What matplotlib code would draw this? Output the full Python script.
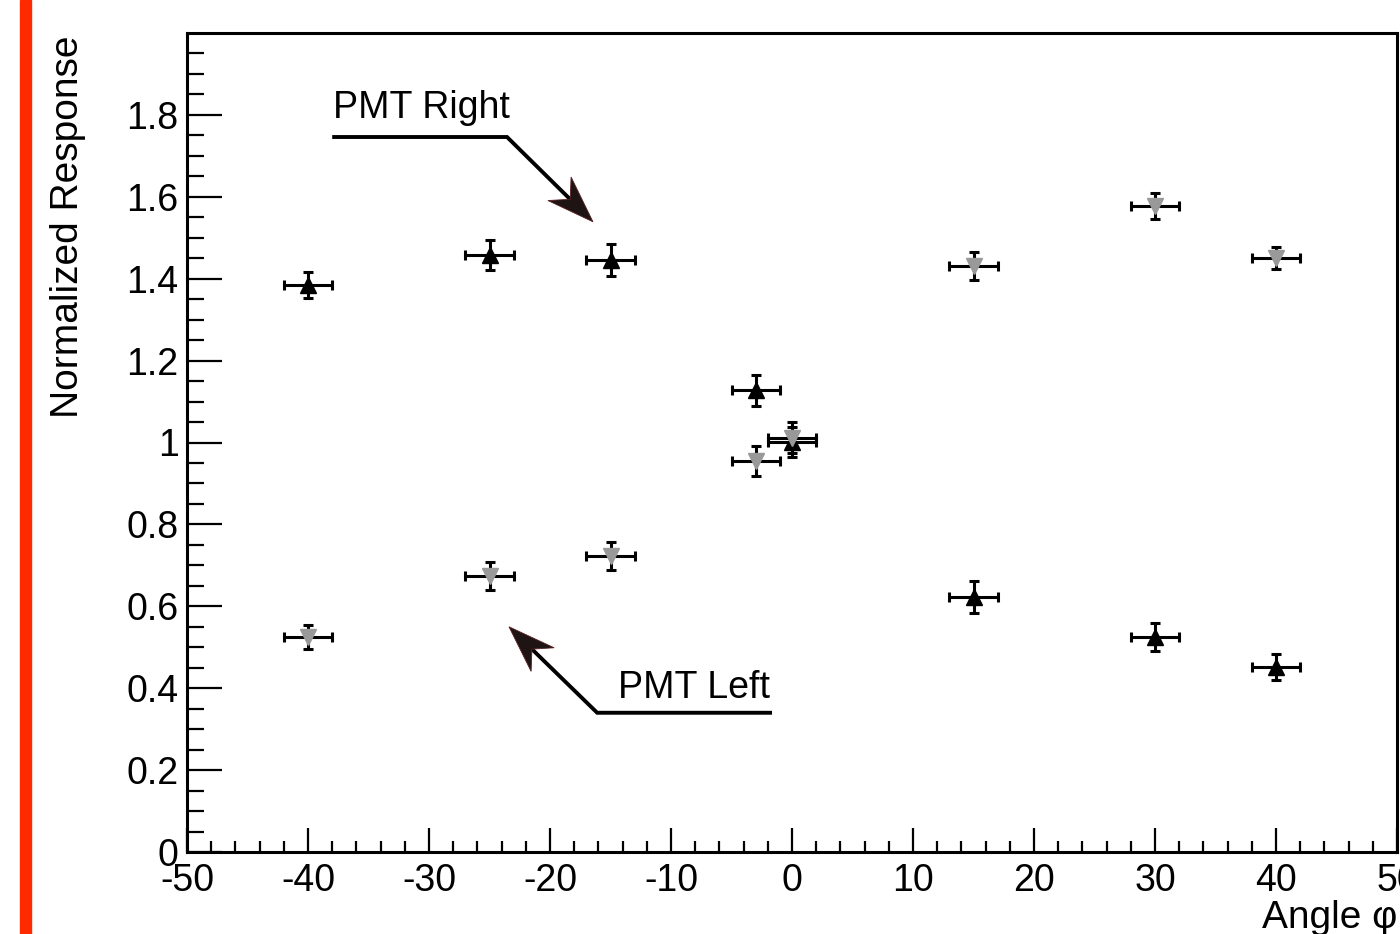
import numpy as np
import matplotlib
matplotlib.use("Agg")
import matplotlib.pyplot as plt
from matplotlib.patches import Polygon, Rectangle
from matplotlib.transforms import IdentityTransform
from matplotlib.ticker import MultipleLocator, FixedLocator

plt.rcParams['font.family'] = ['Liberation Sans', 'DejaVu Sans']
plt.rcParams['axes.unicode_minus'] = False

# data
angle = [-40, -25, -15, -3, 0, 15, 30, 40]
angle_err = [2, 2, 2, 2, 2, 2, 2, 2]
pmt_right = [1.385, 1.458, 1.446, 1.128, 1.001, 0.623, 0.525, 0.452]
pmt_right_err = [0.032, 0.036, 0.039, 0.038, 0.037, 0.040, 0.035, 0.032]
pmt_left = [0.525, 0.674, 0.723, 0.955, 1.012, 1.431, 1.578, 1.451]
pmt_left_err = [0.030, 0.033, 0.035, 0.036, 0.037, 0.034, 0.031, 0.027]

fig = plt.figure(figsize=(14, 9.34), dpi=100)
ax = fig.add_axes([187/1400, 82/934, 1210/1400, 819/934])

# red bar on the left edge
fig.patches.append(Rectangle((20/1400, 0), 11/1400, 1, transform=fig.transFigure,
                             color='#ff2a00', zorder=0))

ax.errorbar(angle, pmt_right, xerr=angle_err, yerr=pmt_right_err, fmt='^', color='black',
            ecolor='black', ms=11, elinewidth=2.2, capsize=3.5, capthick=2.2, zorder=3)
ax.errorbar(angle, pmt_left, xerr=angle_err, yerr=pmt_left_err, fmt='v', color='#999999',
            mec='#999999', ecolor='black', ms=11, elinewidth=2.2, capsize=3.5, capthick=2.2, zorder=4)

ax.set_xlim(-50, 50)
ax.set_ylim(0, 2.0)
ax.xaxis.set_major_locator(MultipleLocator(10))
ax.xaxis.set_minor_locator(MultipleLocator(2))
ax.yaxis.set_major_locator(FixedLocator(np.arange(0, 1.81, 0.2)))
ax.yaxis.set_minor_locator(FixedLocator(np.arange(0, 1.96, 0.05)))
ax.set_yticklabels(['0', '0.2', '0.4', '0.6', '0.8', '1', '1.2', '1.4', '1.6', '1.8'])

ax.tick_params(axis='both', which='both', direction='in', width=1.6, labelsize=27,
               top=False, right=False)
ax.tick_params(axis='x', which='major', length=17, pad=8)
ax.tick_params(axis='x', which='minor', length=8)
ax.tick_params(axis='y', which='major', length=25, pad=6)
ax.tick_params(axis='y', which='minor', length=12)
for s in ax.spines.values():
    s.set_linewidth(2.2)

fig.text(68/1400, (934-35)/934, 'Normalized Response', rotation=90, ha='center', va='top',
         fontsize=28)
fig.text(1397/1400, (934-928)/934, 'Angle φ', ha='right', va='baseline', fontsize=28)

# annotations
ax.text(-37.9, 1.793, 'PMT Right', fontsize=27, ha='left', va='baseline')
ax.text(-14.4, 0.376, 'PMT Left', fontsize=27, ha='left', va='baseline')


def arrow(path, length=47, half=16.5, notch=15):
    pts = ax.transData.transform(np.array(path))
    tip = pts[-1]
    d = tip - pts[-2]
    d = d / np.hypot(*d)
    n = np.array([-d[1], d[0]])
    back = tip - (length - notch) * d
    line = np.vstack([pts[:-1], back])
    ax.plot(line[:, 0], line[:, 1], color='black', lw=2.8, transform=IdentityTransform(),
            solid_capstyle='butt', solid_joinstyle='miter', clip_on=False, zorder=5)
    head = [tip, tip - length * d + half * n, back, tip - length * d - half * n]
    ax.add_patch(Polygon(head, closed=True, transform=IdentityTransform(),
                         facecolor='#1e1414', edgecolor='#5a2020', lw=0.6, clip_on=False, zorder=6))


fig.canvas.draw()
arrow([(-38.0, 1.746), (-23.55, 1.746), (-16.45, 1.539)])
arrow([(-1.65, 0.340), (-16.1, 0.340), (-23.39, 0.550)])

fig.savefig('out.png', dpi=100)
